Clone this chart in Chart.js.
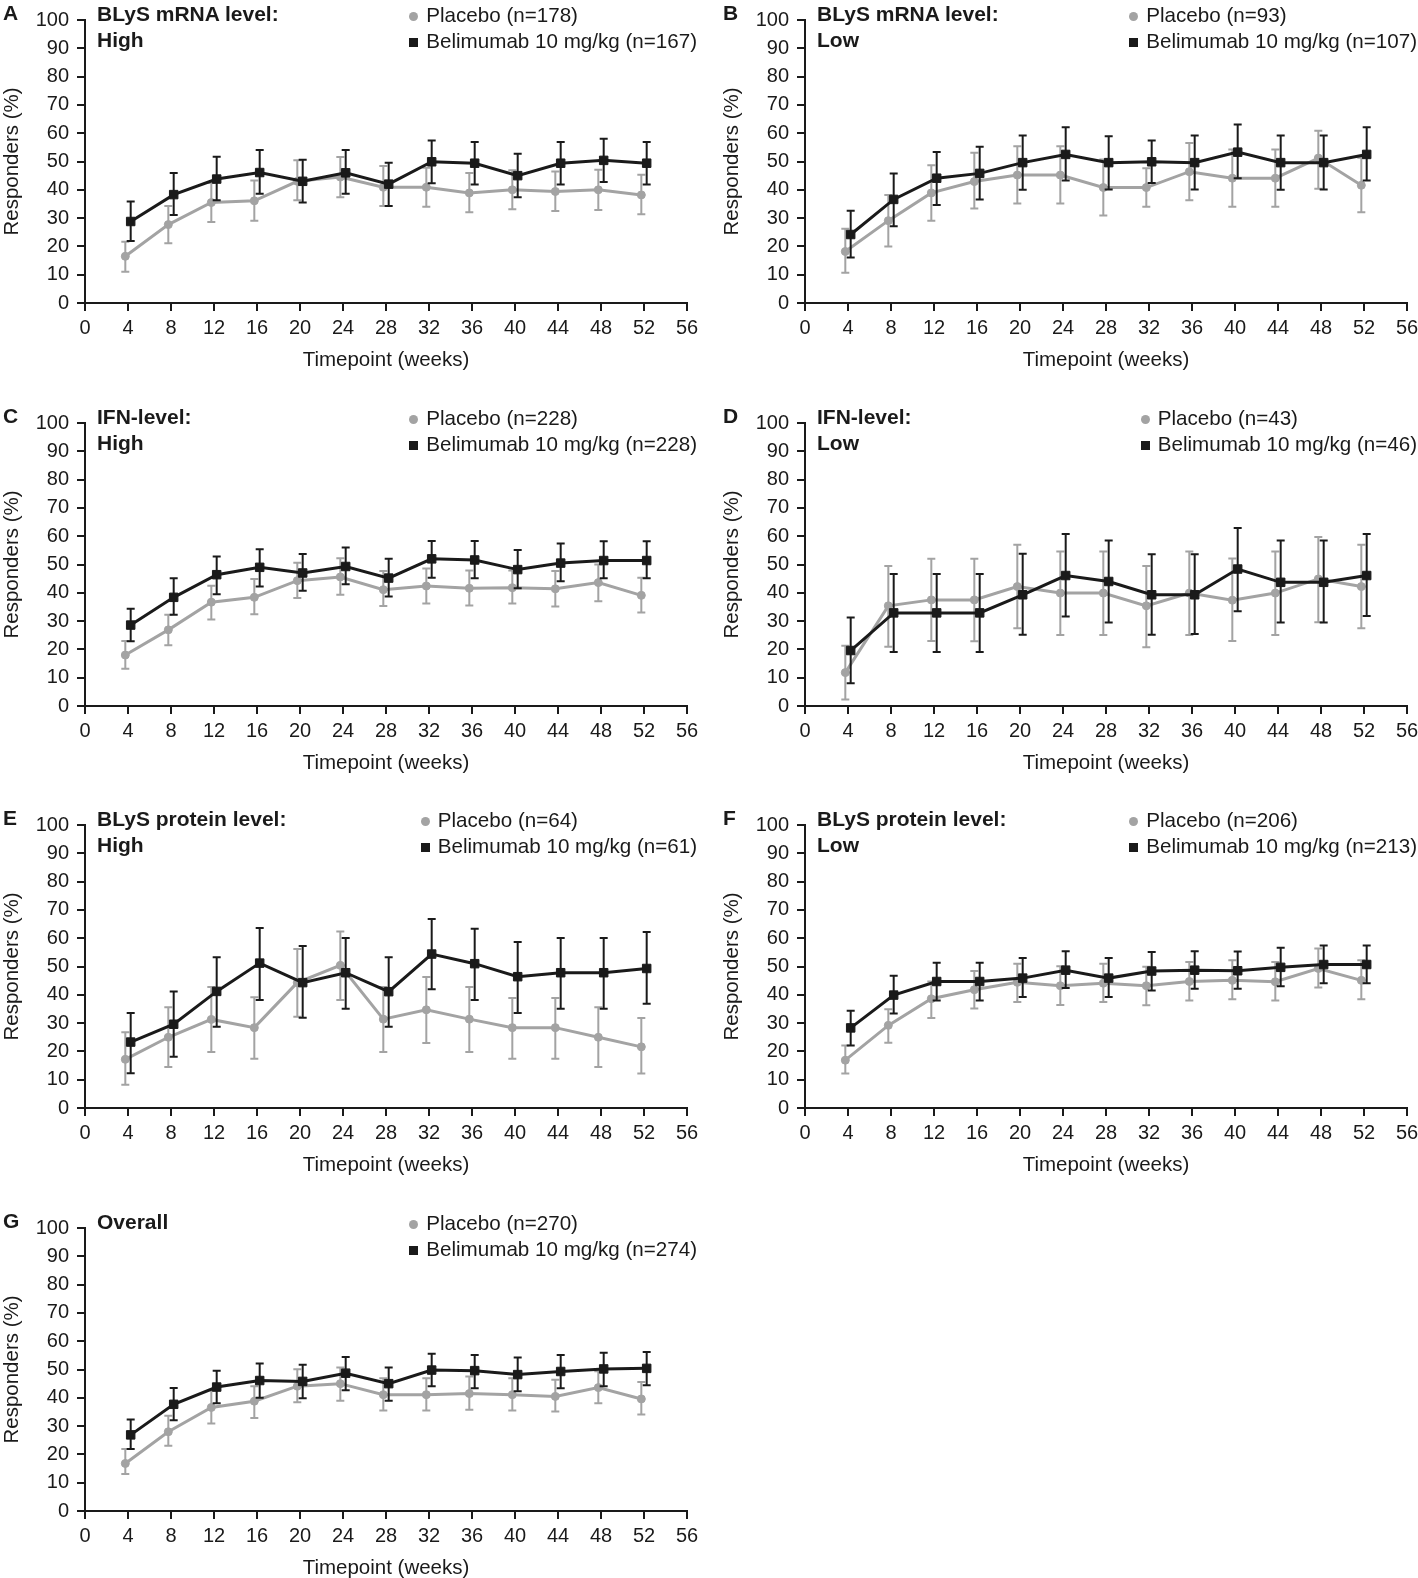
<!DOCTYPE html>
<html lang="en">
<head>
  <meta charset="UTF-8">
  <title>Responders over time by biomarker subgroup</title>
  <style>
    html, body { margin: 0; padding: 0; background: #fff; overflow: hidden; }
    body { width: 1418px; height: 1578px; position: relative; font-family: "Liberation Sans", Arial, sans-serif; color: #1a1a1a; }
    .panel { position: absolute; width: 720px; height: 402px; }
    .panel canvas { position: absolute; left: 0; top: 0; }
    .letter { position: absolute; left: 3px; top: 0px; font-size: 21px; font-weight: bold; line-height: 26px; }
    .title { position: absolute; left: 97px; top: 1px; font-size: 21px; font-weight: bold; line-height: 26px; }
    .legend { position: absolute; right: 23px; top: 2px; font-size: 20.6px; line-height: 26px; }
    .legend .row { white-space: nowrap; }
    .mk { display: inline-block; width: 9px; height: 9px; margin-right: 8px; vertical-align: 1px; }
    .mk.circle { border-radius: 50%; background: #a3a3a3; }
    .mk.square { background: #1a1a1a; }
  </style>
</head>
<body>
  <script src="https://cdn.jsdelivr.net/npm/chart.js"></script>
  <script>
    // timepoints (weeks)
    const weeks = [4, 8, 12, 16, 20, 24, 28, 32, 36, 40, 44, 48, 52];

    // A: BLyS mRNA high
    const aPla   = [16.5, 27.7, 35.5, 36.1, 43.0, 44.5, 40.9, 40.9, 38.9, 40.0, 39.4, 40.0, 38.2];
    const aPlaLo = [11.0, 21.1, 28.6, 29.1, 36.3, 37.4, 34.3, 34.0, 32.1, 33.1, 32.5, 32.9, 31.4];
    const aPlaHi = [21.6, 34.3, 42.4, 43.3, 50.4, 51.6, 48.4, 47.8, 45.9, 46.9, 46.5, 47.1, 45.3];
    const aBel   = [28.8, 38.3, 43.8, 46.1, 43.0, 46.0, 42.0, 49.9, 49.4, 45.0, 49.4, 50.4, 49.4];
    const aBelLo = [21.9, 31.1, 36.3, 38.6, 35.5, 38.6, 34.3, 42.3, 41.9, 37.4, 41.9, 42.8, 41.9];
    const aBelHi = [35.9, 45.9, 51.7, 54.1, 50.6, 54.1, 49.6, 57.4, 56.9, 52.7, 56.9, 58.0, 56.9];

    // B: BLyS mRNA low
    const bPla   = [18.2, 29.1, 38.9, 42.9, 45.2, 45.2, 40.8, 40.8, 46.4, 44.1, 44.1, 51.2, 41.6];
    const bPlaLo = [10.7, 20.0, 29.1, 33.4, 35.2, 35.2, 30.9, 34.0, 36.3, 34.0, 34.0, 40.4, 32.1];
    const bPlaHi = [26.2, 38.2, 48.7, 53.1, 55.4, 55.4, 50.7, 47.6, 56.5, 54.2, 54.2, 60.9, 51.3];
    const bBel   = [24.2, 36.6, 44.1, 45.8, 49.6, 52.5, 49.6, 49.9, 49.6, 53.3, 49.6, 49.6, 52.5];
    const bBelLo = [16.1, 27.1, 34.6, 36.6, 40.0, 43.3, 40.1, 42.4, 40.1, 44.1, 40.0, 40.1, 43.3];
    const bBelHi = [32.6, 45.8, 53.4, 55.2, 59.2, 62.1, 58.9, 57.4, 59.2, 63.1, 59.2, 59.2, 62.1];

    // C: IFN high
    const cPla   = [18.0, 26.9, 36.7, 38.4, 44.3, 45.6, 41.1, 42.4, 41.6, 41.8, 41.4, 43.6, 39.1];
    const cPlaLo = [13.2, 21.5, 30.6, 32.4, 38.2, 39.3, 35.3, 36.2, 35.5, 36.2, 35.2, 37.0, 33.0];
    const cPlaHi = [23.0, 32.2, 42.5, 44.9, 50.6, 52.2, 47.7, 48.6, 47.9, 47.9, 47.7, 50.0, 45.3];
    const cBel   = [28.6, 38.4, 46.4, 49.0, 47.0, 49.3, 45.2, 52.0, 51.6, 48.2, 50.5, 51.4, 51.4];
    const cBelLo = [22.9, 32.2, 39.5, 42.2, 40.7, 43.0, 38.7, 45.3, 45.1, 41.6, 44.1, 45.1, 45.1];
    const cBelHi = [34.4, 45.1, 52.8, 55.4, 53.7, 56.0, 52.0, 58.3, 58.3, 55.1, 57.4, 58.2, 58.2];

    // D: IFN low
    const dPla   = [11.8, 35.4, 37.5, 37.5, 42.2, 39.9, 39.9, 35.4, 39.9, 37.4, 39.9, 44.9, 42.2];
    const dPlaLo = [2.3, 20.9, 23.0, 22.9, 27.5, 25.1, 25.1, 20.8, 25.1, 23.0, 25.1, 29.6, 27.5];
    const dPlaHi = [21.3, 49.5, 52.0, 52.0, 57.0, 54.6, 54.6, 49.5, 54.6, 52.1, 54.6, 59.7, 57.0];
    const dBel   = [19.6, 32.9, 32.9, 32.9, 39.3, 46.1, 44.0, 39.3, 39.3, 48.4, 43.7, 43.7, 46.1];
    const dBelLo = [8.0, 19.1, 19.1, 19.1, 25.2, 31.6, 29.5, 25.2, 25.4, 33.5, 29.5, 29.5, 31.8];
    const dBelHi = [31.3, 46.6, 46.6, 46.6, 53.8, 60.8, 58.5, 53.6, 53.6, 62.9, 58.5, 58.5, 60.8];

    // E: BLyS protein high
    const ePla   = [17.2, 25.0, 31.3, 28.4, 44.3, 50.4, 31.4, 34.7, 31.4, 28.4, 28.4, 25.0, 21.6];
    const ePlaLo = [8.2, 14.5, 19.8, 17.4, 32.2, 38.2, 19.8, 23.0, 19.8, 17.4, 17.4, 14.5, 12.2];
    const ePlaHi = [26.8, 35.6, 42.8, 39.1, 56.2, 62.4, 42.8, 46.3, 42.8, 38.9, 38.9, 35.6, 31.8];
    const eBel   = [23.3, 29.6, 41.2, 51.2, 44.3, 47.8, 41.1, 54.4, 51.0, 46.4, 47.8, 47.8, 49.3];
    const eBelLo = [12.3, 18.1, 28.7, 38.2, 31.9, 35.1, 28.7, 42.0, 38.2, 33.6, 35.1, 35.1, 36.8];
    const eBelHi = [33.6, 41.2, 53.3, 63.6, 57.2, 60.1, 53.3, 66.8, 63.3, 58.7, 60.1, 60.1, 62.2];

    // F: BLyS protein low
    const fPla   = [16.9, 29.2, 38.6, 41.8, 44.4, 43.2, 44.1, 43.2, 44.7, 45.1, 44.6, 49.3, 45.1];
    const fPlaLo = [12.2, 23.1, 31.8, 35.2, 37.5, 36.4, 37.5, 36.3, 38.0, 38.4, 38.0, 42.6, 38.4];
    const fPlaHi = [22.1, 34.9, 44.7, 48.4, 51.0, 50.1, 51.0, 49.9, 51.6, 52.2, 51.6, 56.4, 52.2];
    const fBel   = [28.3, 39.9, 44.7, 44.7, 45.9, 48.7, 45.9, 48.4, 48.7, 48.5, 49.7, 50.7, 50.7];
    const fBelLo = [22.1, 33.4, 38.0, 38.0, 39.2, 42.4, 39.2, 41.5, 42.1, 42.1, 43.0, 44.1, 44.1];
    const fBelHi = [34.4, 46.7, 51.3, 51.3, 53.0, 55.4, 53.0, 55.1, 55.4, 55.3, 56.6, 57.4, 57.4];

    // G: overall
    const gPla   = [16.8, 28.0, 36.6, 38.8, 44.1, 45.0, 41.1, 41.1, 41.5, 41.1, 40.5, 43.6, 39.6];
    const gPlaLo = [13.1, 23.1, 30.9, 32.9, 38.4, 39.0, 35.5, 35.5, 35.8, 35.5, 35.2, 38.1, 34.1];
    const gPlaHi = [21.9, 33.7, 42.7, 44.1, 50.1, 50.7, 46.9, 46.9, 47.5, 46.9, 46.4, 49.4, 45.6];
    const gBel   = [26.9, 37.7, 43.8, 46.1, 45.8, 48.7, 45.0, 49.8, 49.6, 48.2, 49.3, 50.2, 50.4];
    const gBelLo = [21.9, 32.1, 38.1, 40.0, 39.8, 42.7, 39.0, 44.1, 43.4, 42.3, 43.4, 44.1, 44.4];
    const gBelHi = [32.3, 43.5, 49.6, 52.1, 51.7, 54.4, 50.7, 55.6, 55.1, 54.2, 55.1, 55.9, 56.2];

    const letters = ['A', 'B', 'C', 'D', 'E', 'F', 'G'];
    const titles = [
      ['BLyS mRNA level:', 'High'], ['BLyS mRNA level:', 'Low'],
      ['IFN-level:', 'High'], ['IFN-level:', 'Low'],
      ['BLyS protein level:', 'High'], ['BLyS protein level:', 'Low'],
      ['Overall']
    ];
    const nPlacebo = [178, 93, 228, 43, 64, 206, 270];
    const nBelimumab = [167, 107, 228, 46, 61, 213, 274];

    const panels = [
      [aPla, aPlaLo, aPlaHi, aBel, aBelLo, aBelHi],
      [bPla, bPlaLo, bPlaHi, bBel, bBelLo, bBelHi],
      [cPla, cPlaLo, cPlaHi, cBel, cBelLo, cBelHi],
      [dPla, dPlaLo, dPlaHi, dBel, dBelLo, dBelHi],
      [ePla, ePlaLo, ePlaHi, eBel, eBelLo, eBelHi],
      [fPla, fPlaLo, fPlaHi, fBel, fBelLo, fBelHi],
      [gPla, gPlaLo, gPlaHi, gBel, gBelLo, gBelHi]
    ];

    const INK = '#1a1a1a';
    const GREY = '#a3a3a3';
    const FONT = '"Liberation Sans", Arial, sans-serif';
    Chart.defaults.font.family = FONT;

    // vertical CI whiskers, drawn just before each line
    const errorBars = {
      id: 'errorBars',
      beforeDatasetDraw(chart, args) {
        const ds = chart.data.datasets[args.index];
        if (!ds.errLo) return;
        const y = chart.scales.y;
        const ctx = chart.ctx;
        ctx.save();
        ctx.strokeStyle = ds.errColor;
        ctx.lineWidth = 2;
        args.meta.data.forEach((pt, i) => {
          const top = y.getPixelForValue(ds.errHi[i]);
          const bot = y.getPixelForValue(ds.errLo[i]);
          ctx.beginPath();
          ctx.moveTo(pt.x, top); ctx.lineTo(pt.x, bot);
          ctx.moveTo(pt.x - 4, top); ctx.lineTo(pt.x + 4, top);
          ctx.moveTo(pt.x - 4, bot); ctx.lineTo(pt.x + 4, bot);
          ctx.stroke();
        });
        ctx.restore();
      }
    };

    function points(vals, dodge) {
      return vals.map((v, i) => ({ x: weeks[i] + dodge, y: v }));
    }

    panels.forEach((p, k) => {
      const col = k % 2, row = Math.floor(k / 2);
      const div = document.createElement('div');
      div.className = 'panel';
      div.style.left = (col * 720) + 'px';
      div.style.top = (row * 402.5) + 'px';
      div.innerHTML =
        '<canvas width="720" height="402"></canvas>' +
        '<div class="letter">' + letters[k] + '</div>' +
        '<div class="title">' + titles[k].join('<br>') + '</div>' +
        '<div class="legend">' +
          '<div class="row"><span class="mk circle"></span>Placebo (n=' + nPlacebo[k] + ')</div>' +
          '<div class="row"><span class="mk square"></span>Belimumab 10 mg/kg (n=' + nBelimumab[k] + ')</div>' +
        '</div>';
      document.body.appendChild(div);
      const canvas = div.querySelector('canvas');

      new Chart(canvas, {
        type: 'line',
        data: {
          datasets: [
            {
              label: 'Placebo', data: points(p[0], -0.25),
              errLo: p[1], errHi: p[2], errColor: GREY,
              borderColor: GREY, backgroundColor: GREY, borderWidth: 3,
              pointStyle: 'circle', pointRadius: 4, pointBorderWidth: 1,
              order: 2
            },
            {
              label: 'Belimumab 10 mg/kg', data: points(p[3], 0.25),
              errLo: p[4], errHi: p[5], errColor: INK,
              borderColor: INK, backgroundColor: INK, borderWidth: 3,
              pointStyle: 'rect', pointRadius: 6, pointBorderWidth: 1,
              order: 1
            }
          ]
        },
        options: {
          responsive: false,
          animation: false,
          layout: { padding: { left: 0, right: 33, top: 14, bottom: 0 } },
          plugins: { legend: { display: false }, tooltip: { enabled: false } },
          scales: {
            x: {
              type: 'linear', min: 0, max: 56,
              ticks: { stepSize: 4, color: INK, font: { size: 20 }, padding: 5, maxRotation: 0, autoSkip: false },
              grid: { drawOnChartArea: false, tickLength: 8, color: INK, lineWidth: 2 },
              border: { color: INK, width: 2 },
              title: { display: true, text: 'Timepoint (weeks)', color: INK, font: { size: 20.5 }, padding: { top: 4, bottom: 29 } },
              afterFit: s => { s.height = 99; }
            },
            y: {
              min: 0, max: 100,
              ticks: { stepSize: 10, color: INK, font: { size: 20 }, padding: 8 },
              grid: { drawOnChartArea: false, tickLength: 8, color: INK, lineWidth: 2 },
              border: { color: INK, width: 2 },
              title: { display: true, text: 'Responders (%)', color: INK, font: { size: 20.5 }, padding: { top: 0, bottom: 0 } },
              afterFit: s => { s.width = 85; }
            }
          }
        },
        plugins: [errorBars]
      });
    });
  </script>
</body>
</html>
